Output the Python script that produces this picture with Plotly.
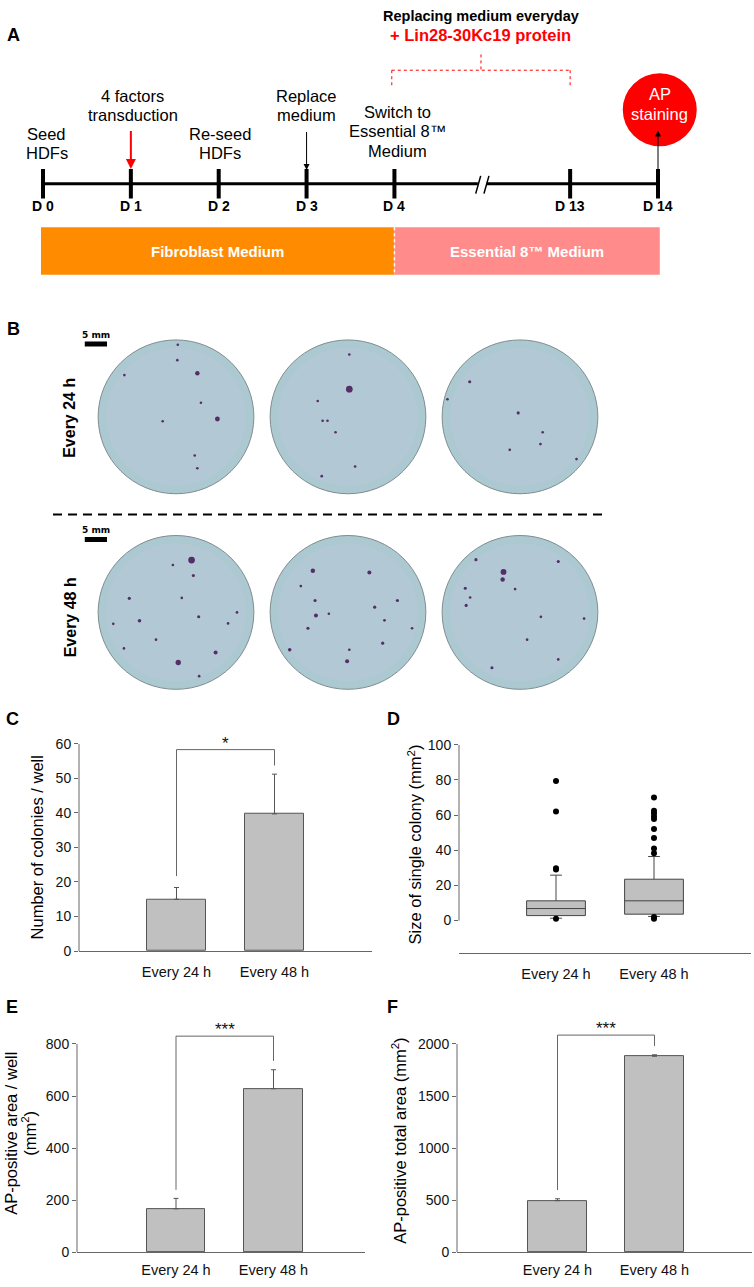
import plotly.graph_objects as go

W, H = 754, 1287
FONT = "Arial, Liberation Sans, sans-serif"

# ---------------- panel A: timeline ----------------
day_labels = ["D 0", "D 1", "D 2", "D 3", "D 4", "D 13", "D 14"]
day_slots = [0, 1, 2, 3, 4, 6, 7]          # slot 5 is the axis break
break_slot = 5
event_slots = [0, 1, 2, 3, 4]
event_texts = [["Seed", "HDFs"],
               ["4 factors", "transduction"],
               ["Re-seed", "HDFs"],
               ["Replace", "medium"],
               ["Switch to", "Essential 8™", "Medium"]]
medium_names = ["Fibroblast Medium", "Essential 8™ Medium"]
medium_start = [0, 4]
medium_end = [4, 7]
protein_from, protein_to = 4, 6
stain_slot = 7

# ---------------- panel B: wells, colonies (dx mm, dy mm, diameter mm) ----------------
well_diam = 35.0
well_x = [0.0, 38.65, 77.3]
row_y = [0.0, -44.5]
row_names = ["Every 24 h", "Every 48 h"]
colonies_24h = [
    [(4.8, 9.9, 1.0), (9.3, -0.5, 1.1), (0.4, 16.4, 0.5), (0.3, 12.9, 0.5), (4.2, -8.8, 0.5),
     (4.8, -11.7, 0.5), (-11.6, 9.5, 0.4), (5.6, 3.2, 0.4), (-3.0, -1.0, 0.4)],
    [(0.3, 6.3, 1.5), (0.3, 14.2, 0.5), (1.6, -11.3, 0.6), (-5.9, -13.5, 0.6), (-5.7, -0.9, 0.5),
     (-4.6, -0.9, 0.5), (-6.8, 3.6, 0.4), (-2.8, -3.5, 0.4)],
    [(-11.3, 8.0, 0.7), (-16.3, 4.0, 0.6), (-0.4, 0.9, 0.7), (4.6, -6.2, 0.6), (-2.3, -7.5, 0.6),
     (12.7, -9.6, 0.6), (5.1, -3.5, 0.4)],
]
colonies_48h = [
    [(3.5, 11.9, 1.5), (3.9, 8.4, 0.7), (-10.5, 3.2, 0.7), (-8.2, -1.9, 0.8), (5.1, -1.0, 0.7),
     (11.7, -2.5, 0.6), (13.7, 0.0, 0.6), (8.9, -9.1, 0.9), (0.5, -11.4, 1.2), (-11.7, -8.2, 0.6),
     (-0.7, 10.8, 0.5), (1.3, 3.3, 0.4), (-4.5, -6.2, 0.6), (5.2, -14.5, 0.6), (-14.1, -2.6, 0.5)],
    [(-7.9, 9.5, 1.0), (4.8, 9.1, 0.9), (-10.6, 6.0, 0.6), (-7.4, 2.7, 0.7), (-7.2, -0.7, 0.9),
     (6.0, 1.2, 0.7), (11.1, 2.7, 0.7), (8.2, -1.8, 0.6), (-9.0, -3.6, 0.7), (0.3, -8.5, 0.6),
     (-13.1, -8.5, 0.8), (-0.2, -11.1, 0.9), (7.8, -7.0, 0.7), (14.4, -3.6, 0.6), (-4.3, -0.3, 0.5)],
    [(-9.9, 12.0, 0.7), (-3.7, 9.2, 1.3), (-3.9, 7.5, 1.0), (-12.3, 5.5, 0.7), (-11.2, 3.4, 0.6),
     (-12.1, 1.6, 0.7), (-1.1, 5.3, 0.6), (8.6, 11.6, 0.7), (4.7, -1.0, 0.6), (14.4, -1.4, 0.6),
     (8.6, -10.7, 0.6), (-6.3, -12.6, 0.7), (1.6, -6.2, 0.6)],
]
scale_bar_mm = 5

# ---------------- panels C-F ----------------
groups = ["Every 24 h", "Every 48 h"]
colonies_mean = [15.0, 39.7]
colonies_err = [3.4, 11.5]
area_mean = [167, 628]
area_err = [40, 73]
total_mean = [496, 1882]
total_err = [18, 14]
sig_C = (21.7, 58.3, 53.7, "*")        # left start, top, right end, label
sig_E = (240, 830, 735, "***")
sig_F = (598, 2085, 1981, "***")

box_q1 = [2.8, 3.6]
box_median = [6.8, 11.2]
box_q3 = [11.2, 23.5]
box_low = [1.3, 2.3]
box_high = [25.8, 36.4]
outliers_24h = [79.4, 62.0, 29.8, 29.0, 1.0]
outliers_48h = [70.0, 62.5, 61.0, 59.3, 57.8, 52.0, 47.0, 41.0, 38.2, 2.0, 1.0]

ticks_C = [0, 10, 20, 30, 40, 50, 60]
ticks_D = [0, 20, 40, 60, 80, 100]
ticks_E = [0, 200, 400, 600, 800]
ticks_F = [0, 500, 1000, 1500, 2000]


def dom_x(l, r):
    return [l / W, r / W]


def dom_y(t, b):
    return [1 - b / H, 1 - t / H]


fig = go.Figure()
shapes = []
ann = []
layout_axes = {}


def label(x, y, text, size, color="black", **kw):
    ann.append(dict(x=x / W, y=1 - y / H, xref="paper", yref="paper", text=text, showarrow=False,
                    xanchor="center", yanchor="middle",
                    font=dict(family=FONT, size=size, color=color), **kw))


# ================= panel A =================
SX, X0 = 87.857, 43.0      # px per slot, px of slot 0
LINE_Y = 178


def slot(p):
    return (p - X0) / SX


layout_axes["xaxis"] = dict(domain=[0, 1], range=[slot(0), slot(W)], visible=False, anchor="y")
layout_axes["yaxis"] = dict(domain=dom_y(0, 290), range=[290, 0], visible=False, anchor="x")

gap = 0.05
fig.add_trace(go.Scatter(x=[day_slots[0], break_slot - gap, None, break_slot + gap, day_slots[-1]],
                         y=[LINE_Y, LINE_Y, None, LINE_Y, LINE_Y], mode="lines",
                         line=dict(color="black", width=3), xaxis="x", yaxis="y", hoverinfo="skip"))
fig.add_trace(go.Scatter(x=[break_slot - 0.075, break_slot - 0.018, None, break_slot + 0.019, break_slot + 0.076],
                         y=[188, 170, None, 188, 170], mode="lines",
                         line=dict(color="black", width=1.5), xaxis="x", yaxis="y", hoverinfo="skip"))
fig.add_trace(go.Scatter(x=day_slots, y=[LINE_Y] * len(day_slots), mode="markers",
                         marker=dict(symbol="line-ns", size=21, line=dict(width=4, color="black")),
                         xaxis="x", yaxis="y", hoverinfo="skip"))

for s, t in zip(day_slots, day_labels):
    ann.append(dict(x=s, y=200, xref="x", yref="y", text="<b>%s</b>" % t, showarrow=False,
                    font=dict(family=FONT, size=14, color="black")))

event_y = [137, 98.5, 137, 98.5, 125]
event_dx = [0.04, 0.02, 0.01, 0.0, 0.03]
for s, lines, cy, dx in zip(event_slots, event_texts, event_y, event_dx):
    n = len(lines)
    for k, t in enumerate(lines):
        ann.append(dict(x=s + dx, y=cy + (k - (n - 1) / 2) * 19.5, xref="x", yref="y", text=t,
                        showarrow=False, font=dict(family=FONT, size=16.5, color="black")))

# arrows
for s, tail, tip, col, w in [(1, 123, 163, "#ff0000", 2), (3, 124, 164, "black", 1),
                             (stain_slot, 167, 124, "black", 1)]:
    ann.append(dict(x=s, y=tip, ax=s, ay=tail, xref="x", yref="y", axref="x", ayref="y", text="",
                    showarrow=True, arrowhead=2, arrowsize=1.2 if w == 1 else 1, arrowwidth=w,
                    arrowcolor=col, standoff=0))

# protein bracket
mid = (protein_from + protein_to) / 2 - 0.015
red_dot = dict(color="#ff0000", width=1, dash="dot")
for x0, y0, x1, y1 in [(mid, 47, mid, 63), (protein_from - 0.03, 63, protein_to, 63),
                       (protein_from - 0.03, 63, protein_from - 0.03, 80), (protein_to, 63, protein_to, 80)]:
    shapes.append(dict(type="line", xref="x", yref="y", x0=x0, y0=y0, x1=x1, y1=y1, line=red_dot))
ann.append(dict(x=mid, y=8, xref="x", yref="y", text="<b>Replacing medium everyday</b>", showarrow=False,
                font=dict(family=FONT, size=14.5, color="black")))
ann.append(dict(x=mid, y=27, xref="x", yref="y", text="<b>+ Lin28-30Kc19 protein</b>", showarrow=False,
                font=dict(family=FONT, size=16.5, color="#ff0000")))

# AP staining circle
r = 37 / SX
shapes.append(dict(type="circle", xref="x", yref="y", x0=stain_slot + 0.02 - r, x1=stain_slot + 0.02 + r,
                   y0=66, y1=140, fillcolor="#ff0000", line=dict(width=0), layer="below"))
for t, yy in [("AP", 87), ("staining", 107)]:
    ann.append(dict(x=stain_slot + 0.02, y=yy, xref="x", yref="y", text=t, showarrow=False,
                    font=dict(family=FONT, size=16.5, color="white")))

# medium bars
for i, (nm, s0, s1, colr) in enumerate(zip(medium_names, medium_start, medium_end, ["#ff8c00", "#ff8b8b"])):
    x0 = s0 - (0.023 if i == 0 else 0)
    x1 = s1 + (0.02 if i == len(medium_names) - 1 else 0)
    shapes.append(dict(type="rect", xref="x", yref="y", x0=x0, x1=x1, y0=222, y1=270,
                       fillcolor=colr, line=dict(width=0), layer="below"))
    ann.append(dict(x=(x0 + x1) / 2, y=247, xref="x", yref="y", text="<b>%s</b>" % nm, showarrow=False,
                    font=dict(family=FONT, size=15, color="white")))
shapes.append(dict(type="line", xref="x", yref="y", x0=medium_start[1], x1=medium_start[1], y0=222, y1=270,
                   line=dict(color="white", width=1.5, dash="dot")))
label(13, 27, "<b>A</b>", 18)

# ================= panel B =================
PMM = 4.45
CX1, CY1 = 176, 414
layout_axes["xaxis2"] = dict(domain=[0, 1], range=[-CX1 / PMM, (W - CX1) / PMM], visible=False, anchor="y2")
layout_axes["yaxis2"] = dict(domain=dom_y(300, 700), range=[-(700 - CY1) / PMM, (CY1 - 300) / PMM],
                             visible=False, anchor="x2")
R = well_diam / 2
cx_all, cy_all, cs_all = [], [], []
for ry, row in zip(row_y, [colonies_24h, colonies_48h]):
    for wx, cols in zip(well_x, row):
        shapes.append(dict(type="circle", xref="x2", yref="y2", x0=wx - R, x1=wx + R, y0=ry - R, y1=ry + R,
                           fillcolor="rgb(172,200,208)", line=dict(color="#7f8d90", width=1), layer="below"))
        shapes.append(dict(type="circle", xref="x2", yref="y2", x0=wx - R * 0.9, x1=wx + R * 0.9,
                           y0=ry - R * 0.9, y1=ry + R * 0.9, fillcolor="rgba(188,200,222,0.35)",
                           line=dict(width=0), layer="below"))
        for dx, dy, d in cols:
            cx_all.append(wx + dx)
            cy_all.append(ry + dy)
            cs_all.append(max(2.6, d * PMM))
    # scale bar
    shapes.append(dict(type="line", xref="x2", yref="y2", x0=-20.5, x1=-20.5 + scale_bar_mm,
                       y0=ry + 16.6, y1=ry + 16.6, line=dict(color="black", width=5)))
    ann.append(dict(x=-20.5 + scale_bar_mm / 2, y=ry + 18.7, xref="x2", yref="y2",
                    text="<b>%d mm</b>" % scale_bar_mm, showarrow=False,
                    font=dict(family="DejaVu Sans, sans-serif", size=9, color="black")))

fig.add_trace(go.Scatter(x=cx_all, y=cy_all, mode="markers", xaxis="x2", yaxis="y2", hoverinfo="skip",
                         marker=dict(size=cs_all, color="#4a1d5c", opacity=0.9, line=dict(width=0))))
for nm, yy in zip(row_names, [415, 617]):
    label(70, yy, "<b>%s</b>" % nm, 16, textangle=-90)
shapes.append(dict(type="line", xref="paper", yref="paper", x0=53 / W, x1=602 / W, y0=1 - 513 / H,
                   y1=1 - 513 / H, line=dict(color="black", width=2, dash="9px,6px")))
label(13, 325, "<b>B</b>", 18)


# ================= panels C-F =================
AX = "#666"


def setup(n, xl, xr, c0, c1, yt, yb, ymin, ymax, top, tickvals, standoff):
    unit = c1 - c0
    s = (yb - yt) / (ymax - ymin)
    dtop = yb - (top - ymin) * s
    layout_axes["xaxis%d" % n] = dict(domain=dom_x(xl, xr), range=[(xl - c0) / unit, (xr - c0) / unit],
                                      anchor="y%d" % n, showline=True, linecolor=AX, linewidth=1,
                                      showgrid=False, zeroline=False, ticks="", tickvals=[0, 1],
                                      ticktext=groups, ticklabelstandoff=standoff,
                                      tickfont=dict(family=FONT, size=14.5, color="#111"))
    layout_axes["yaxis%d" % n] = dict(domain=dom_y(dtop, yb), range=[ymin, top], anchor="x%d" % n,
                                      showline=False, showgrid=False, zeroline=False, ticks="outside",
                                      ticklen=4, tickcolor=AX, tickvals=tickvals,
                                      tickfont=dict(family=FONT, size=14, color="#111"))
    shapes.append(dict(type="line", xref="x%d domain" % n, yref="y%d" % n, x0=0, x1=0, y0=ymin, y1=ymax,
                       line=dict(color=AX, width=1)))


def bars(n, means, errs, sig):
    fig.add_trace(go.Bar(x=[0, 1], y=means, width=0.6, xaxis="x%d" % n, yaxis="y%d" % n,
                         marker=dict(color="#c0c0c0", line=dict(color="#555", width=1)),
                         error_y=dict(type="data", symmetric=False, array=errs, arrayminus=[0, 0],
                                      color="#555", thickness=1, width=2.5), hoverinfo="skip"))
    l, t, rr, txt = sig
    fig.add_trace(go.Scatter(x=[0, 0, 1, 1], y=[l, t, t, rr], mode="lines", xaxis="x%d" % n,
                             yaxis="y%d" % n, line=dict(color=AX, width=1), hoverinfo="skip"))
    ann.append(dict(x=0.5, y=t, xref="x%d" % n, yref="y%d" % n, text=txt, showarrow=False,
                    yanchor="bottom", yshift=-5, font=dict(family=FONT, size=17, color="#111")))


setup(3, 79, 372, 176.5, 274.5, 745, 955, 0, 60, 60, ticks_C, 7)
bars(3, colonies_mean, colonies_err, sig_C)
label(37, 850, "Number of colonies / well", 16.5, textangle=-90)
label(12, 720, "<b>C</b>", 18)

setup(4, 459, 751, 556, 654, 746, 924, 0, 100, 100, ticks_D, 7)
layout_axes["yaxis4"]["range"] = [-(957 - 924) / ((924 - 746) / 100), 100]
layout_axes["yaxis4"]["domain"] = dom_y(746, 957)
fig.add_trace(go.Box(x=[0, 1], q1=box_q1, median=box_median, q3=box_q3, lowerfence=box_low,
                     upperfence=box_high, width=0.6, whiskerwidth=0.2, boxpoints=False,
                     fillcolor="#c0c0c0", line=dict(color="#444", width=1), xaxis="x4", yaxis="y4",
                     hoverinfo="skip"))
fig.add_trace(go.Scatter(x=[0] * len(outliers_24h) + [1] * len(outliers_48h), y=outliers_24h + outliers_48h,
                         mode="markers", marker=dict(color="black", size=6), xaxis="x4", yaxis="y4",
                         hoverinfo="skip"))
label(415, 847, "Size of single colony (mm<sup>2</sup>)", 16.5, textangle=-90)
label(393, 720, "<b>D</b>", 18)

setup(5, 77, 365, 176, 273.5, 1049, 1260, 0, 800, 880, ticks_E, 4)
bars(5, area_mean, area_err, sig_E)
label(11, 1140, "AP-positive area / well", 16.5, textangle=-90)
label(29, 1140, "(mm<sup>2</sup>)", 16.5, textangle=-90)
label(12, 1012, "<b>E</b>", 18)

setup(6, 457, 752, 557.5, 654.5, 1049, 1260, 0, 2000, 2200, ticks_F, 4)
bars(6, total_mean, total_err, sig_F)
label(399, 1147, "AP-positive total area (mm<sup>2</sup>)", 16.5, textangle=-90)
label(392, 1012, "<b>F</b>", 18)

fig.update_layout(width=W, height=H, autosize=False, margin=dict(l=0, r=0, t=0, b=0),
                  paper_bgcolor="white", plot_bgcolor="rgba(0,0,0,0)", showlegend=False,
                  font=dict(family=FONT, color="black"), shapes=shapes, annotations=ann,
                  bargap=0, **layout_axes)
fig.write_html("out.html", config={"displayModeBar": False},
               post_script="document.body.style.margin='0';")
